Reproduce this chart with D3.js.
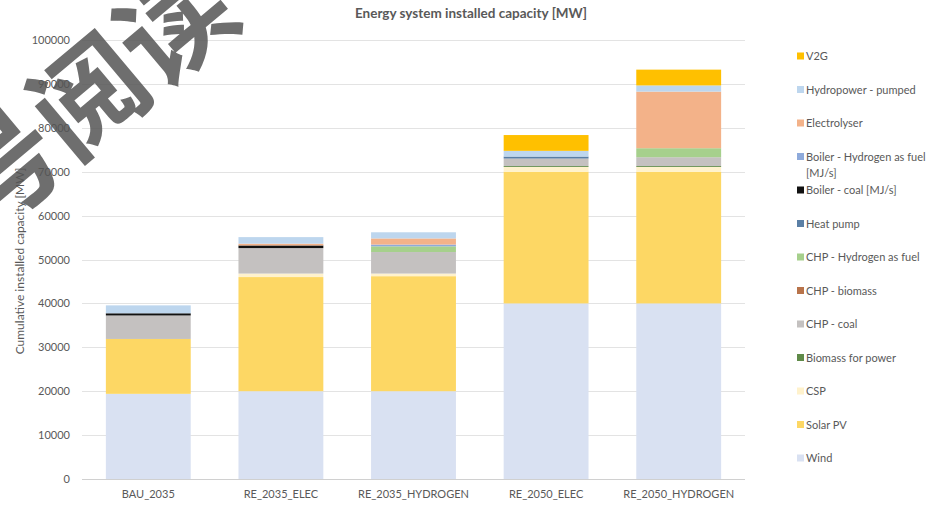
<!DOCTYPE html>
<html><head><meta charset="utf-8">
<script src="https://cdn.jsdelivr.net/npm/d3@7"></script>
<style>
html,body{margin:0;padding:0;background:#fff;}
svg{display:block;font-family:Lato,"Open Sans",sans-serif;}
</style></head>
<body><svg id="chart" width="935" height="508"></svg>
<script>
const categories = ["BAU_2035","RE_2035_ELEC","RE_2035_HYDROGEN","RE_2050_ELEC","RE_2050_HYDROGEN"];
const seriesNames = ["Wind","Solar PV","CSP","Biomass for power","CHP - coal","CHP - biomass","CHP - Hydrogen as fuel","Heat pump","Boiler - coal [MJ/s]","Boiler - Hydrogen as fuel [MJ/s]","Electrolyser","Hydropower - pumped","V2G"];
const wind           = [19400, 20000, 20000, 40000, 40000];
const solarPV        = [12500, 26000, 26200, 30000, 30000];
const csp            = [0, 800, 600, 1100, 1100];
const biomassPower   = [0, 0, 0, 200, 200];
const chpCoal        = [5350, 5800, 4900, 1700, 2000];
const chpBiomass     = [0, 0, 0, 0, 0];
const chpHydrogen    = [0, 0, 1300, 0, 2050];
const heatPump       = [0, 0, 0, 450, 0];
const boilerCoal     = [500, 600, 0, 0, 0];
const boilerHydrogen = [0, 0, 400, 0, 0];
const electrolyser   = [0, 400, 1400, 0, 12900];
const hydroPumped    = [1800, 1500, 1400, 1300, 1400];
const v2g            = [0, 0, 0, 3600, 3600];
const yTicks = [0,10000,20000,30000,40000,50000,60000,70000,80000,90000,100000];

const seriesValues = [wind, solarPV, csp, biomassPower, chpCoal, chpBiomass, chpHydrogen, heatPump, boilerCoal, boilerHydrogen, electrolyser, hydroPumped, v2g];
const colors = ["#d9e1f2","#fdd764","#fff2cc","#5f8a48","#c4c1c0","#b8734a","#a6d08c","#5a7fa5","#111111","#8eaadb","#f3b289","#bdd6ee","#ffc000"];

const rows = categories.map((c,i)=>{
  const r = {category:c};
  seriesNames.forEach((s,j)=> r[s]=seriesValues[j][i]);
  return r;
});

const svg = d3.select("#chart");
const x = d3.scaleBand().domain(categories).range([82,745]).paddingInner(0.36).paddingOuter(0.18);
const y = d3.scaleLinear().domain([0,100000]).range([479,40]);

// gridlines
svg.append("g").selectAll("line").data(yTicks.filter(d=>d>0)).join("line")
  .attr("x1",82).attr("x2",745).attr("y1",d=>Math.round(y(d))+0.5).attr("y2",d=>Math.round(y(d))+0.5)
  .attr("stroke","#e3e3e3").attr("stroke-width",1);

// stacked bars
const stack = d3.stack().keys(seriesNames)(rows);
svg.append("g").selectAll("g").data(stack).join("g")
  .attr("fill",(d,i)=>colors[i])
  .selectAll("rect").data(d=>d).join("rect")
  .attr("x",d=>x(d.data.category))
  .attr("width",x.bandwidth())
  .attr("y",d=>y(d[1]))
  .attr("height",d=>Math.max(0,y(d[0])-y(d[1])));

// baseline
svg.append("line").attr("x1",82).attr("x2",745).attr("y1",Math.round(y(0))+0.5).attr("y2",Math.round(y(0))+0.5)
  .attr("stroke","#d0d0d0");

// y axis labels
const yAxis = d3.axisLeft(y).tickValues(yTicks).tickFormat(d3.format("d")).tickSize(0).tickPadding(0);
const gy = svg.append("g").attr("transform","translate(70,0)").call(yAxis);
gy.select(".domain").remove();
gy.selectAll("text").attr("font-size",11).attr("fill","#595959").attr("font-family","Lato,sans-serif");

// x axis labels
const xAxis = d3.axisBottom(x).tickSize(0).tickPadding(0);
const gx = svg.append("g").attr("transform","translate(0,490)").call(xAxis);
gx.select(".domain").remove();
gx.selectAll("text").attr("font-size",11).attr("fill","#595959").attr("font-family","Lato,sans-serif");

// title
svg.append("text").attr("x",471).attr("y",18).attr("text-anchor","middle")
  .attr("font-size",13.5).attr("font-weight","bold").attr("fill","#595959")
  .text("Energy system installed capacity [MW]");

// y axis title
svg.append("text").attr("transform","translate(24,261) rotate(-90)").attr("text-anchor","middle")
  .attr("font-size",12).attr("fill","#595959").text("Cumulative installed capacity [MW]");

// legend
const legendOrder = seriesNames.map((s,i)=>({name:s,color:colors[i]})).reverse();
const lg = svg.append("g");
legendOrder.forEach((d,i)=>{
  const cy = 56 + i*33.5;
  lg.append("rect").attr("x",797).attr("y",cy-3.5).attr("width",7).attr("height",7).attr("fill",d.color);
  if (d.name === "Boiler - Hydrogen as fuel [MJ/s]") {
    const t = lg.append("text").attr("font-size",11).attr("fill","#595959");
    t.append("tspan").attr("x",806).attr("y",cy+4).text("Boiler - Hydrogen as fuel");
    t.append("tspan").attr("x",806).attr("y",cy+20).text("[MJ/s]");
  } else {
    lg.append("text").attr("x",806).attr("y",cy+4).attr("font-size",11).attr("fill","#595959").text(d.name);
  }
});

// watermark overlay (partly outside the frame, as in the reference)
svg.append("text").attr("transform","translate(84,90) rotate(-40)")
  .attr("text-anchor","middle").attr("dominant-baseline","central")
  .attr("font-family","'Noto Sans CJK SC'").attr("font-weight","bold").attr("font-size",112)
  .attr("fill","#555555").attr("opacity",0.85).text("号阅读");
</script></body></html>
